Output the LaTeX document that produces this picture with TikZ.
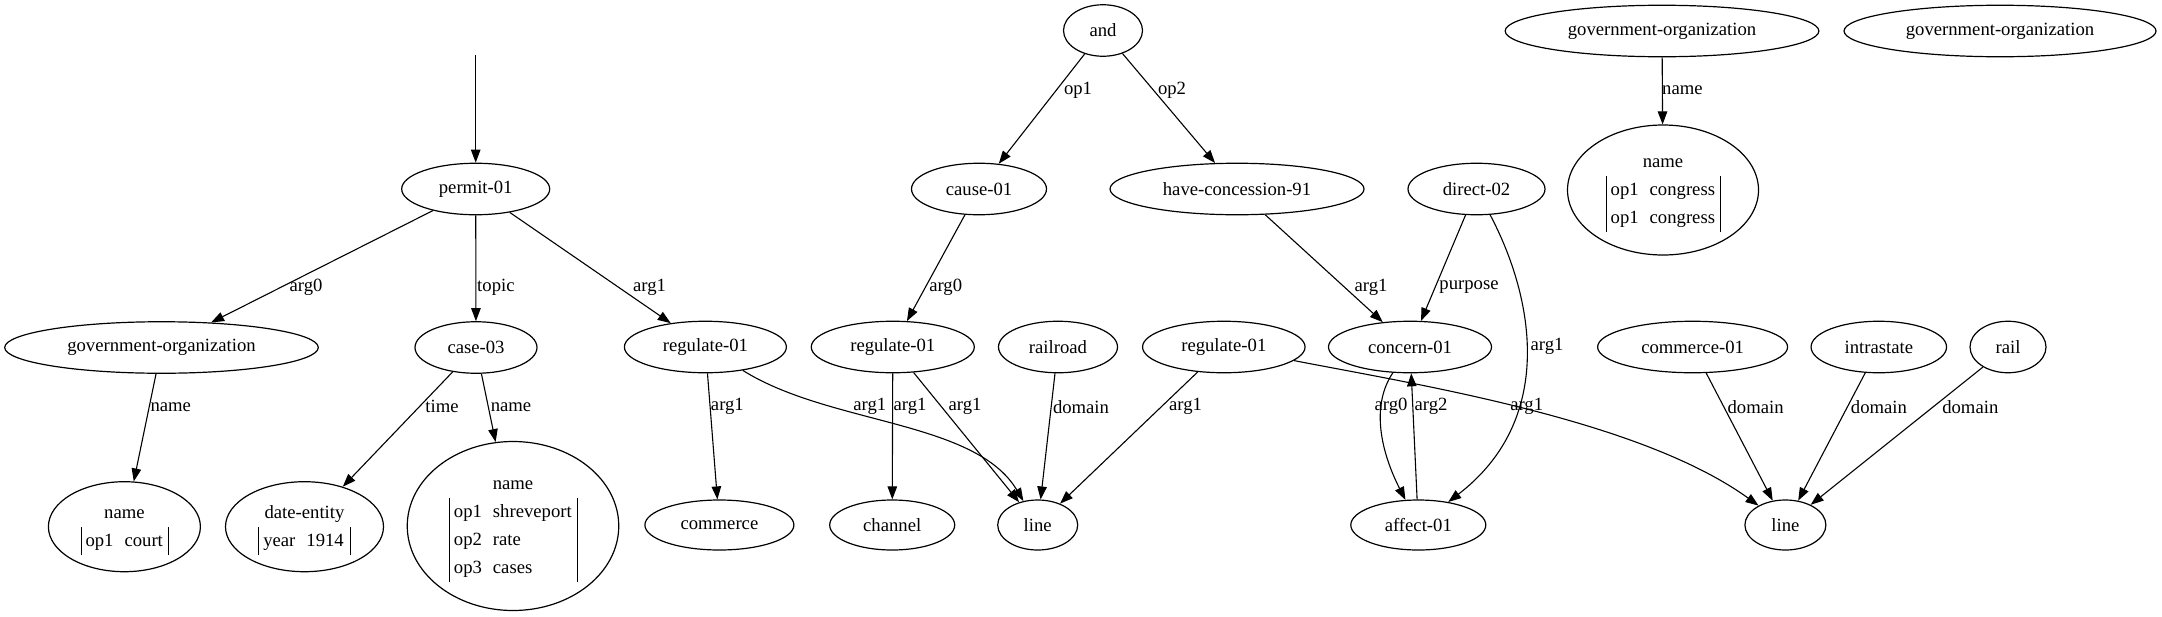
\documentclass[tikz,border=0pt]{standalone}
\usepackage{fontspec}
\setmainfont{Liberation Serif}
\usetikzlibrary{shapes.geometric,arrows.meta}
\newcommand{\rec}[1]{\begin{tabular}{|@{\hspace{4.5pt}}l@{\hspace{11pt}}l@{\hspace{5pt}}|}\multicolumn{2}{c}{name}\\ #1\end{tabular}}
\begin{document}
\begin{tikzpicture}[x=1pt,y=-1pt,
  every node/.style={font=\fontsize{18.67}{28}\selectfont},
  nd/.style={draw, ellipse, line width=1.2pt, inner sep=0pt, minimum height=51.5pt},
  lo/.style={nd, minimum height=50pt},
  edge/.style={-{Triangle[length=13pt,width=9.5pt]}, line width=1.1pt},
  lbl/.style={inner sep=0pt}]
\useasboundingbox (0,0) rectangle (2162,616);

% row 1
\node[nd, minimum width=79pt] (and) at (1103,30.5) {and};
\node[nd, minimum width=313.7pt] (gov2) at (1662,31) {government-organization};
\node[nd, minimum width=312pt] (gov3) at (2000,31) {government-organization};
\coordinate (top) at (475.7,55);

% row 2
\node[nd, minimum width=148pt] (permit) at (475.7,189) {permit-01};
\node[nd, minimum width=135pt] (cause) at (979,189) {cause-01};
\node[nd, minimum width=254pt] (hc) at (1237,189) {have-concession-91};
\node[nd, minimum width=137pt] (direct) at (1476.5,189) {direct-02};
\node[nd, minimum width=191pt, minimum height=130pt] (congress) at (1663,190) {\rec{op1 & congress\\ op1 & congress}};

% row 3
\node[nd, minimum width=313.6pt] (govL) at (161.5,347.5) {government-organization};
\node[nd, minimum width=122pt] (case) at (476,347.5) {case-03};
\node[nd, minimum width=162pt] (regA) at (705.4,347) {regulate-01};
\node[nd, minimum width=163pt] (regB) at (892.8,347) {regulate-01};
\node[nd, minimum width=119pt] (railroad) at (1058,347) {railroad};
\node[nd, minimum width=162.5pt] (regC) at (1223.8,347) {regulate-01};
\node[nd, minimum width=163pt] (concern) at (1410,347) {concern-01};
\node[nd, minimum width=190pt] (comm01) at (1692.6,347) {commerce-01};
\node[nd, minimum width=135.5pt] (intra) at (1878.8,347) {intrastate};
\node[nd, minimum width=76pt] (rail) at (2008,347) {rail};

% row 4
\node[nd, minimum width=152pt, minimum height=90pt] (ncourt) at (124.4,526.7) {\rec{op1 & court}};
\node[nd, minimum width=158pt, minimum height=90pt] (date) at (304.5,526.7) {\begin{tabular}{|@{\hspace{4.5pt}}l@{\hspace{11pt}}l@{\hspace{5pt}}|}\multicolumn{2}{c}{date-entity}\\ year & 1914\end{tabular}};
\node[nd, minimum width=211.5pt, minimum height=169pt] (ncity) at (513,526) {\rec{op1 & shreveport\\ op2 & rate\\ op3 & cases}};
\node[lo, minimum width=149pt] (commerce) at (719.4,525) {commerce};
\node[lo, minimum width=125pt] (channel) at (892.2,525) {channel};
\node[lo, minimum width=80pt] (line1) at (1037.7,525) {line};
\node[lo, minimum width=135pt] (affect) at (1418.3,525) {affect-01};
\node[lo, minimum width=81pt] (line2) at (1785.4,525) {line};

% edges
\draw[edge] (top) -- (permit);
\draw[edge] (and) -- (cause);
\draw[edge] (and) -- (hc);
\draw[edge] (gov2) -- (congress);
\draw[edge] (permit) -- (govL);
\draw[edge] (permit) -- (case);
\draw[edge] (permit) -- (regA);
\draw[edge] (cause) -- (regB);
\draw[edge] (hc) -- (concern);
\draw[edge] (direct) -- (concern);
\draw[edge] (direct) .. controls (1535,300) and (1555,420) .. (affect);
\draw[edge] (govL) -- (ncourt);
\draw[edge] (case) -- (date);
\draw[edge] (case) -- (ncity);
\draw[edge] (regA) -- (commerce);
\draw[edge] (regA) .. controls (830,425) and (975,420) .. (line1);
\draw[edge] (regB) -- (channel);
\draw[edge] (regB) -- (line1);
\draw[edge] (railroad) -- (line1);
\draw[edge] (regC) -- (line1);
\draw[edge] (regC) .. controls (1420,385) and (1640,420) .. (line2);
\draw[edge] (concern) .. controls (1368,410) and (1385,460) .. (affect);
\draw[edge] (affect) -- (concern);
\draw[edge] (comm01) -- (line2);
\draw[edge] (intra) -- (line2);
\draw[edge] (rail) -- (line2);

% labels
\node[lbl] (l1) at (1078,90) {op1};
\node[lbl] (l2) at (1172,90) {op2};
\node[lbl] (l3) at (1682.4,90) {name};
\node[lbl] (l4) at (306,287) {arg0};
\node[lbl] (l5) at (495.9,287) {topic};
\node[lbl] (l6) at (649.5,287) {arg1};
\node[lbl] (l7) at (945.7,287) {arg0};
\node[lbl] (l8) at (1371,287) {arg1};
\node[lbl] (l9) at (1469,287) {purpose};
\node[lbl] (l10) at (1547,346.7) {arg1};
\node[lbl] (l11) at (170.8,406.7) {name};
\node[lbl] (l12) at (442,406.7) {time};
\node[lbl] (l13) at (511,406.7) {name};
\node[lbl] (l14) at (727.4,406.7) {arg1};
\node[lbl] (l15) at (869.8,406.7) {arg1};
\node[lbl] (l16) at (910,406.7) {arg1};
\node[lbl] (l17) at (965,406.7) {arg1};
\node[lbl] (l18) at (1081,406.7) {domain};
\node[lbl] (l19) at (1185.5,406.7) {arg1};
\node[lbl] (l20) at (1391,406.7) {arg0};
\node[lbl] (l21) at (1431,406.7) {arg2};
\node[lbl] (l22) at (1526.7,406.7) {arg1};
\node[lbl] (l23) at (1755.6,406.7) {domain};
\node[lbl] (l24) at (1878.9,406.7) {domain};
\node[lbl] (l25) at (1970.3,406.7) {domain};
\end{tikzpicture}
\end{document}
